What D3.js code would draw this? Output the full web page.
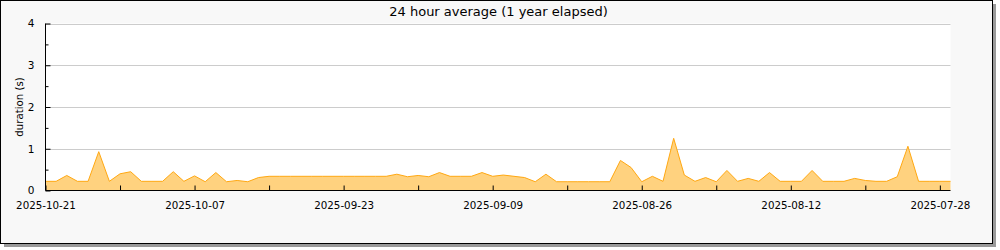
<!DOCTYPE html>
<html>
<head>
<meta charset="utf-8">
<script src="https://cdn.jsdelivr.net/npm/d3@7"></script>
<style>
  html, body { margin: 0; padding: 0; background: #ffffff; }
  svg { display: block; font-family: "DejaVu Sans", sans-serif; }
</style>
</head>
<body>
<svg id="chart" width="1000" height="250"></svg>
<script>
// ---- data ----
const title = "24 hour average (1 year elapsed)";
const yLabel = "duration (s)";
// one value per 24-hour bucket, newest (left) to oldest (right)
const durations = [
  0.22, 0.22, 0.36, 0.22, 0.22, 0.93, 0.22, 0.40, 0.45, 0.22,
  0.22, 0.22, 0.45, 0.22, 0.35, 0.21, 0.43, 0.21, 0.24, 0.21,
  0.31, 0.34, 0.34, 0.34, 0.34, 0.34, 0.34, 0.34, 0.34, 0.34,
  0.34, 0.34, 0.34, 0.39, 0.33, 0.36, 0.33, 0.43, 0.34, 0.34,
  0.34, 0.43, 0.34, 0.37, 0.34, 0.31, 0.21, 0.39, 0.21, 0.21,
  0.21, 0.21, 0.21, 0.21, 0.72, 0.55, 0.21, 0.34, 0.22, 1.25,
  0.37, 0.22, 0.31, 0.21, 0.48, 0.22, 0.29, 0.22, 0.43, 0.22,
  0.22, 0.22, 0.48, 0.22, 0.22, 0.22, 0.29, 0.24, 0.22, 0.22,
  0.33, 1.06, 0.22, 0.22, 0.22, 0.22
];
// labelled major ticks (bucket index -> label), minor ticks between them
const xTickIndex = [0, 14, 28, 42, 56, 70, 84];
const xTickLabels = ["2025-10-21", "2025-10-07", "2025-09-23", "2025-09-09", "2025-08-26", "2025-08-12", "2025-07-28"];
const xMinorIndex = [7, 21, 35, 49, 63, 77];
const yTickValues = [0, 1, 2, 3, 4];
const yMinorTicks = [0.5, 1.5, 2.5, 3.5];

(function () {
const svg = d3.select("#chart");
const pLeft = 45.5, pRight = 950.5, pTop = 23.5, pBottom = 190.5;

const data = durations.map((v, i) => ({ i: i, value: v }));

const x = d3.scaleLinear().domain([0, durations.length - 1]).range([pLeft, pRight]);
const y = d3.scaleLinear().domain([0, 4]).range([pBottom, pTop]);

// frame with shadow
svg.append("rect").attr("x", 4).attr("y", 4).attr("width", 992).attr("height", 243).attr("fill", "#9a9a9a");
svg.append("rect").attr("x", 0.5).attr("y", 0.5).attr("width", 992).attr("height", 243)
  .attr("fill", "#f8f8f8").attr("stroke", "#000").attr("stroke-width", 1);

// plot background
svg.append("rect").attr("x", pLeft).attr("y", pTop).attr("width", pRight - pLeft).attr("height", pBottom - pTop).attr("fill", "#ffffff");

// grid
svg.append("g").selectAll("line").data(yTickValues.filter(v => v > 0)).join("line")
  .attr("x1", pLeft).attr("x2", pRight)
  .attr("y1", d => Math.round(y(d)) + 0.5).attr("y2", d => Math.round(y(d)) + 0.5)
  .attr("stroke", "#cccccc").attr("stroke-width", 1);

// area + line
const area = d3.area().x(d => x(d.i)).y0(y(0)).y1(d => y(d.value));
const line = d3.line().x(d => x(d.i)).y(d => y(d.value));
svg.append("path").datum(data).attr("d", area).attr("fill", "#ffd27f");
svg.append("path").datum(data).attr("d", line).attr("fill", "none").attr("stroke", "#ffa812").attr("stroke-width", 1);

// x axis (ticks pointing up into plot)
const xAxis = d3.axisBottom(x).tickValues(xTickIndex)
  .tickFormat((d, k) => xTickLabels[k]).tickSizeInner(-5).tickSizeOuter(0).tickPadding(11);
const gx = svg.append("g").attr("transform", `translate(0,${pBottom})`).call(xAxis);
gx.select(".domain").remove();
gx.selectAll("text").attr("font-size", 10.3).attr("fill", "#000").attr("font-family", "DejaVu Sans");
gx.selectAll(".tick line").attr("stroke", "#000");
const xMinorAxis = d3.axisBottom(x).tickValues(xMinorIndex).tickFormat("").tickSizeInner(-5).tickSizeOuter(0);
const gxm = svg.append("g").attr("transform", `translate(0,${pBottom})`).call(xMinorAxis);
gxm.select(".domain").remove();
gxm.selectAll(".tick line").attr("stroke", "#000");
svg.append("line").attr("x1", pLeft).attr("x2", pRight).attr("y1", pBottom).attr("y2", pBottom).attr("stroke", "#000");

// y axis (ticks pointing right into plot)
const yAxis = d3.axisLeft(y).tickValues(yTickValues).tickFormat(d3.format("d")).tickSizeInner(-5).tickSizeOuter(0).tickPadding(11);
const gy = svg.append("g").attr("transform", `translate(${pLeft},0)`).call(yAxis);
gy.select(".domain").remove();
gy.selectAll("text").attr("font-size", 10.5).attr("fill", "#000").attr("font-family", "DejaVu Sans");
gy.selectAll(".tick line").attr("stroke", "#000");
const yMinorAxis = d3.axisLeft(y).tickValues(yMinorTicks).tickFormat("").tickSizeInner(-3).tickSizeOuter(0);
const gym = svg.append("g").attr("transform", `translate(${pLeft},0)`).call(yMinorAxis);
gym.select(".domain").remove();
gym.selectAll(".tick line").attr("stroke", "#000");
svg.append("line").attr("x1", pLeft).attr("x2", pLeft).attr("y1", pTop).attr("y2", pBottom).attr("stroke", "#000");

// title
svg.append("text").attr("x", 498.5).attr("y", 15.5).attr("text-anchor", "middle")
  .attr("font-size", 13).attr("fill", "#000").text(title);

// y label
svg.append("text").attr("transform", `translate(23,107) rotate(-90)`).attr("text-anchor", "middle")
  .attr("font-size", 10.2).attr("fill", "#000").text(yLabel);
})();
</script>
</body>
</html>
